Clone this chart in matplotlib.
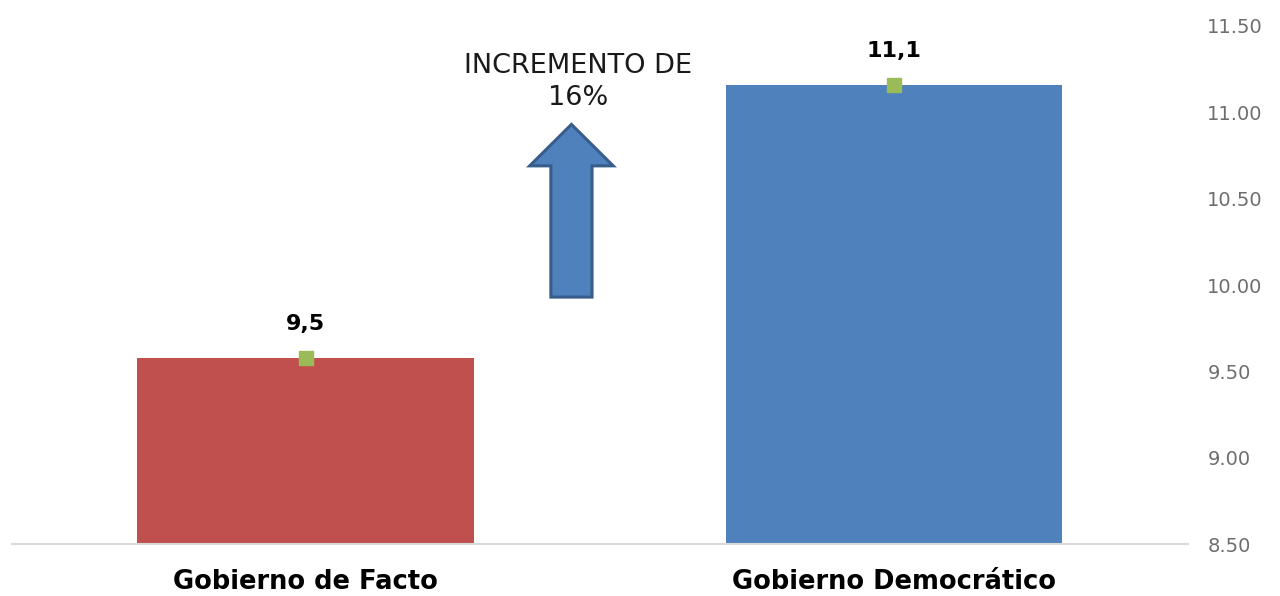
import matplotlib.pyplot as plt
from matplotlib.patches import Polygon

categories = ['Gobierno de Facto', 'Gobierno Democrático']
values = [9.58, 11.16]
value_labels = ['9,5', '11,1']
bar_colors = ['#C0504D', '#4F81BD']
yticks = [8.5, 9.0, 9.5, 10.0, 10.5, 11.0, 11.5]
note = 'INCREMENTO DE\n16%'

plt.rcParams['font.family'] = 'DejaVu Sans'

fig = plt.figure(figsize=(12.8, 5.96), dpi=100)
ax = fig.add_axes([0.009, 0.0872, 0.919, 0.8692])

x = range(len(categories))
ax.bar(x, [v - 8.5 for v in values], bottom=8.5, width=0.572, color=bar_colors, zorder=2)
ax.plot(x, values, ls='none', marker='s', ms=10.5, color='#9BBB59', zorder=3)
for i, v in enumerate(values):
    ax.annotate(value_labels[i], (i, v), xytext=(0, 24), textcoords='offset points',
                ha='center', va='center', fontsize=16, fontweight='bold', color='black')

ax.set_xlim(-0.5, 1.5)
ax.set_ylim(8.5, 11.5)
ax.set_xticks(list(x))
ax.set_xticklabels(categories, fontsize=18.5, fontweight='bold')
ax.yaxis.tick_right()
ax.set_yticks(yticks)
ax.set_yticklabels(['%.2f' % t for t in yticks], fontsize=14, color='#6E6E6E')
ax.tick_params(axis='y', length=0, pad=14)
ax.tick_params(axis='x', length=0, pad=18)
for s in ['top', 'left', 'right']:
    ax.spines[s].set_visible(False)
ax.spines['bottom'].set_color('#D9D9D9')
ax.spines['bottom'].set_linewidth(1.5)

# arrow shape (data coords)
ax_x, tip_y = 0.452, 10.93
head_half, shaft_half = 0.071, 0.035
head_y, base_y = 10.69, 9.93
arrow = Polygon([(ax_x, tip_y), (ax_x + head_half, head_y), (ax_x + shaft_half, head_y),
                 (ax_x + shaft_half, base_y), (ax_x - shaft_half, base_y),
                 (ax_x - shaft_half, head_y), (ax_x - head_half, head_y)],
                closed=True, facecolor='#4F81BD', edgecolor='#385D8A', lw=2.2, zorder=4)
ax.add_patch(arrow)
ax.text(0.4626, 11.176, note, ha='center', va='center', fontsize=19.5,
        color='#1A1A1A', linespacing=1.3)

fig.savefig('out.png', dpi=100)
